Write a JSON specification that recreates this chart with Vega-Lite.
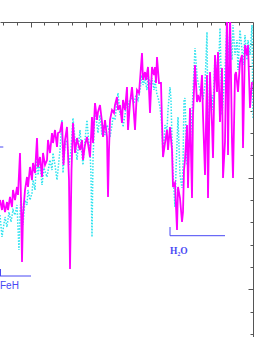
{
  "$schema": "https://vega.github.io/schema/vega-lite/v6.json",
  "width": 253,
  "height": 315,
  "autosize": {"type": "none"},
  "padding": {"left": 0, "top": 22, "right": 21, "bottom": 0},
  "config": {
    "view": {"stroke": null},
    "axis": {"grid": false, "labels": false, "title": null, "domainColor": "#555555", "tickColor": "#555555", "domainWidth": 1, "tickWidth": 1}
  },
  "datasets": {
    "cyan": [
      {"x":0,"f":185},{"x":2,"f":163},{"x":5,"f":183},{"x":7,"f":173},{"x":9,"f":188},{"x":11,"f":178},{"x":13,"f":190},{"x":15,"f":185},{"x":17,"f":195},{"x":19,"f":150},{"x":20,"f":185},{"x":21,"f":203},{"x":23,"f":175},{"x":25,"f":200},{"x":27,"f":195},{"x":28,"f":210},{"x":30,"f":200},{"x":32,"f":207},{"x":33,"f":220},{"x":35,"f":210},{"x":37,"f":253},{"x":38,"f":225},{"x":40,"f":237},{"x":42,"f":215},{"x":44,"f":232},{"x":47,"f":223},{"x":50,"f":240},{"x":52,"f":230},{"x":53,"f":247},{"x":55,"f":235},{"x":57,"f":220},{"x":60,"f":250},{"x":62,"f":280},{"x":63,"f":227},{"x":65,"f":255},{"x":67,"f":260},{"x":69,"f":235},{"x":71,"f":250},{"x":73,"f":282},{"x":75,"f":260},{"x":77,"f":240},{"x":80,"f":270},{"x":82,"f":245},{"x":83,"f":235},{"x":85,"f":260},{"x":87,"f":280},{"x":89,"f":255},{"x":90,"f":250},{"x":91,"f":225},{"x":92,"f":163},{"x":93,"f":240},{"x":95,"f":293},{"x":97,"f":275},{"x":98,"f":267},{"x":100,"f":285},{"x":102,"f":265},{"x":103,"f":275},{"x":105,"f":265},{"x":107,"f":275},{"x":109,"f":270},{"x":110,"f":263},{"x":112,"f":275},{"x":113,"f":283},{"x":115,"f":280},{"x":118,"f":307},{"x":120,"f":285},{"x":122,"f":290},{"x":123,"f":273},{"x":125,"f":285},{"x":127,"f":303},{"x":128,"f":293},{"x":130,"f":300},{"x":132,"f":303},{"x":134,"f":297},{"x":136,"f":305},{"x":138,"f":300},{"x":140,"f":310},{"x":142,"f":325},{"x":143,"f":315},{"x":145,"f":320},{"x":147,"f":310},{"x":148,"f":325},{"x":150,"f":315},{"x":152,"f":322},{"x":154,"f":310},{"x":155,"f":320},{"x":157,"f":305},{"x":158,"f":303},{"x":160,"f":293},{"x":162,"f":273},{"x":163,"f":243},{"x":165,"f":275},{"x":167,"f":270},{"x":168,"f":290},{"x":170,"f":313},{"x":171,"f":300},{"x":172,"f":260},{"x":173,"f":227},{"x":175,"f":193},{"x":176,"f":230},{"x":178,"f":283},{"x":180,"f":225},{"x":182,"f":212},{"x":183,"f":235},{"x":184,"f":300},{"x":185,"f":302},{"x":187,"f":235},{"x":188,"f":260},{"x":190,"f":255},{"x":192,"f":285},{"x":193,"f":308},{"x":195,"f":352},{"x":197,"f":325},{"x":198,"f":318},{"x":200,"f":310},{"x":202,"f":305},{"x":203,"f":300},{"x":205,"f":315},{"x":207,"f":368},{"x":208,"f":262},{"x":210,"f":300},{"x":212,"f":305},{"x":213,"f":290},{"x":215,"f":345},{"x":217,"f":318},{"x":218,"f":315},{"x":220,"f":372},{"x":222,"f":285},{"x":223,"f":298},{"x":225,"f":330},{"x":227,"f":378},{"x":228,"f":340},{"x":230,"f":370},{"x":232,"f":340},{"x":233,"f":375},{"x":235,"f":345},{"x":237,"f":360},{"x":238,"f":330},{"x":240,"f":370},{"x":242,"f":350},{"x":243,"f":335},{"x":245,"f":365},{"x":247,"f":340},{"x":248,"f":360},{"x":250,"f":345},{"x":252,"f":375},{"x":253,"f":282}
    ],
    "magenta": [
      {"x":0,"f":200},{"x":2,"f":190},{"x":3,"f":200},{"x":5,"f":188},{"x":7,"f":198},{"x":8,"f":190},{"x":10,"f":203},{"x":12,"f":193},{"x":13,"f":210},{"x":15,"f":200},{"x":17,"f":213},{"x":18,"f":205},{"x":20,"f":247},{"x":21,"f":200},{"x":22,"f":138},{"x":23,"f":185},{"x":25,"f":210},{"x":27,"f":223},{"x":28,"f":213},{"x":30,"f":233},{"x":32,"f":220},{"x":33,"f":237},{"x":35,"f":227},{"x":37,"f":262},{"x":38,"f":233},{"x":40,"f":243},{"x":42,"f":223},{"x":43,"f":247},{"x":45,"f":235},{"x":47,"f":240},{"x":48,"f":260},{"x":50,"f":247},{"x":52,"f":267},{"x":53,"f":257},{"x":55,"f":270},{"x":57,"f":253},{"x":58,"f":267},{"x":60,"f":268},{"x":62,"f":278},{"x":63.5,"f":235},{"x":65,"f":260},{"x":67,"f":273},{"x":69,"f":220},{"x":70,"f":131},{"x":71.5,"f":230},{"x":73,"f":277},{"x":75,"f":247},{"x":77,"f":262},{"x":78,"f":257},{"x":80,"f":250},{"x":82,"f":260},{"x":83,"f":240},{"x":85,"f":255},{"x":87,"f":263},{"x":89,"f":250},{"x":90,"f":243},{"x":92,"f":283},{"x":93,"f":257},{"x":95,"f":297},{"x":97,"f":280},{"x":98,"f":288},{"x":100,"f":295},{"x":102,"f":278},{"x":103,"f":263},{"x":105,"f":280},{"x":107,"f":263},{"x":108,"f":203},{"x":109,"f":250},{"x":110,"f":280},{"x":112,"f":290},{"x":114,"f":287},{"x":115,"f":295},{"x":117,"f":303},{"x":118,"f":290},{"x":120,"f":295},{"x":122,"f":277},{"x":123,"f":300},{"x":125,"f":290},{"x":127,"f":313},{"x":128,"f":270},{"x":130,"f":297},{"x":132,"f":313},{"x":133,"f":300},{"x":135,"f":270},{"x":137,"f":310},{"x":139,"f":307},{"x":140,"f":320},{"x":142,"f":347},{"x":143,"f":320},{"x":145,"f":328},{"x":146,"f":320},{"x":148,"f":333},{"x":150,"f":287},{"x":152,"f":333},{"x":154,"f":325},{"x":155,"f":333},{"x":156,"f":317},{"x":157,"f":343},{"x":159,"f":317},{"x":161,"f":317},{"x":162,"f":277},{"x":163,"f":243},{"x":165,"f":257},{"x":167,"f":270},{"x":168,"f":250},{"x":170,"f":273},{"x":172,"f":250},{"x":173,"f":213},{"x":175,"f":217},{"x":177,"f":170},{"x":178,"f":213},{"x":180,"f":202},{"x":182,"f":178},{"x":183,"f":188},{"x":184,"f":230},{"x":185,"f":240},{"x":187,"f":275},{"x":188,"f":212},{"x":190,"f":292},{"x":192,"f":202},{"x":193,"f":285},{"x":195,"f":335},{"x":197,"f":298},{"x":198,"f":305},{"x":200,"f":298},{"x":202,"f":325},{"x":203,"f":285},{"x":205,"f":225},{"x":207,"f":325},{"x":208,"f":202},{"x":210,"f":328},{"x":212,"f":275},{"x":213,"f":242},{"x":215,"f":345},{"x":217,"f":308},{"x":218,"f":348},{"x":220,"f":278},{"x":222,"f":332},{"x":223,"f":222},{"x":225,"f":258},{"x":227,"f":390},{"x":228,"f":245},{"x":230,"f":390},{"x":232,"f":258},{"x":233,"f":222},{"x":235,"f":325},{"x":236,"f":328},{"x":238,"f":308},{"x":240,"f":338},{"x":242,"f":345},{"x":243,"f":252},{"x":245,"f":355},{"x":247,"f":345},{"x":248,"f":355},{"x":250,"f":292},{"x":252,"f":318}
    ],
    "brackets": [
      {"x":0,"x2":31,"f":124,"f2":124},
      {"x":0.5,"x2":0.5,"f":131,"f2":124},
      {"x":170,"x2":225,"f":164.3,"f2":164.3},
      {"x":170,"x2":170,"f":173,"f2":164.3},
      {"x":0,"x2":3.3,"f":253,"f2":253}
    ],
    "labels": [
      {"x":0,"f":111,"label":"FeH","kind":"sans"},
      {"x":170,"f":146,"label":"H₂O","kind":"serif"}
    ]
  },
  "layer": [
    {
      "data": {"name": "cyan"},
      "mark": {"type": "line", "color": "#2fe3ef", "strokeWidth": 1.5, "strokeDash": [1.5, 1.5], "clip": true},
      "encoding": {
        "x": {"field": "x", "type": "quantitative", "scale": {"domain": [0, 253], "nice": false, "zero": false},
              "axis": {"orient": "top", "values": [2.7,16.6,44.4,58.3,72.2,100,113.9,127.8,155.6,169.5,183.4,211.2,225.1,239], "tickSize": -3, "domain": true}},
        "y": {"field": "f", "type": "quantitative", "scale": {"domain": [63, 378], "nice": false, "zero": false},
              "axis": {"orient": "right", "values": [356.4,311.7,289.4,267.1,244.7,200.1,177.7,155.4,133.1,88.4,66.1], "tickSize": -3, "domain": true}}
      }
    },
    {
      "data": {"name": "magenta"},
      "mark": {"type": "line", "color": "#ff00ff", "strokeWidth": 1.8, "clip": true},
      "encoding": {
        "x": {"field": "x", "type": "quantitative", "axis": {"orient": "top", "values": [30.5, 86.1, 141.7, 197.3], "tickSize": -5, "domain": false}},
        "y": {"field": "f", "type": "quantitative", "axis": {"orient": "right", "values": [334.1, 222.4, 110.7], "tickSize": -5, "domain": false}}
      }
    },
    {
      "data": {"name": "brackets"},
      "mark": {"type": "rule", "color": "#4848f4", "strokeWidth": 1},
      "encoding": {
        "x": {"field": "x", "type": "quantitative", "axis": null},
        "x2": {"field": "x2"},
        "y": {"field": "f", "type": "quantitative", "axis": null},
        "y2": {"field": "f2"}
      }
    },
    {
      "data": {"name": "labels"},
      "transform": [{"filter": "datum.kind === 'sans'"}],
      "mark": {"type": "text", "color": "#4848f4", "font": "Liberation Sans", "fontSize": 10, "align": "left", "baseline": "alphabetic"},
      "encoding": {
        "x": {"field": "x", "type": "quantitative", "axis": null},
        "y": {"field": "f", "type": "quantitative", "axis": null},
        "text": {"field": "label"}
      }
    },
    {
      "data": {"name": "labels"},
      "transform": [{"filter": "datum.kind === 'serif'"}],
      "mark": {"type": "text", "color": "#4848f4", "font": "Liberation Serif", "fontWeight": "bold", "fontSize": 9.5, "align": "left", "baseline": "alphabetic"},
      "encoding": {
        "x": {"field": "x", "type": "quantitative", "axis": null},
        "y": {"field": "f", "type": "quantitative", "axis": null},
        "text": {"field": "label"}
      }
    }
  ],
  "resolve": {"axis": {"x": "independent", "y": "independent"}}
}
